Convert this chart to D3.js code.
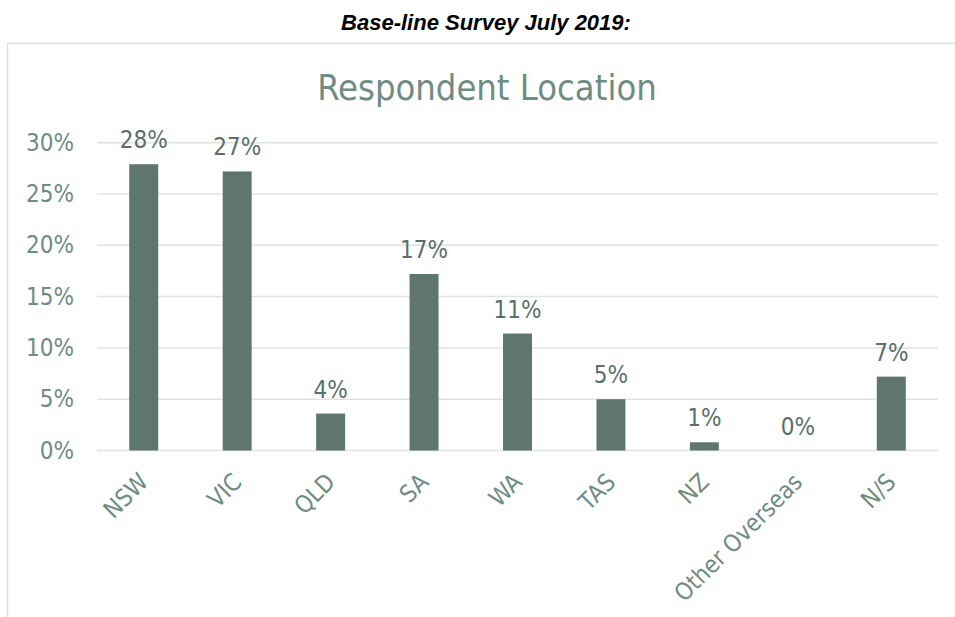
<!DOCTYPE html>
<html>
<head>
<meta charset="utf-8">
<script src="https://cdn.jsdelivr.net/npm/d3@7"></script>
<style>
  html, body { margin: 0; padding: 0; background: #ffffff; }
  svg { display: block; }
</style>
</head>
<body>
<svg id="chart" width="955" height="617"></svg>
<script>
// Respondent location shares, base-line survey
const categories = ["NSW", "VIC", "QLD", "SA", "WA", "TAS", "NZ", "Other Overseas", "N/S"];
const shares = [0.279, 0.272, 0.036, 0.172, 0.114, 0.050, 0.008, 0.0, 0.072];
const yTicks = [0, 0.05, 0.10, 0.15, 0.20, 0.25, 0.30];

const pageTitle = "Base-line Survey July 2019:";
const chartTitle = "Respondent Location";

const svg = d3.select("#chart");

const font = "'DejaVu Sans Condensed', 'Liberation Sans', sans-serif";
const axisColor = "#6f8b84";
const labelColor = "#5b6f6a";
const barColor = "#5e7570";

const plot = { left: 97, right: 938, top: 142.7, bottom: 450.5 };

const x = d3.scaleBand()
  .domain(categories)
  .range([plot.left, plot.right])
  .paddingInner(0.69)
  .paddingOuter(0.345);

const y = d3.scaleLinear()
  .domain([0, 0.30])
  .range([plot.bottom, plot.top]);

// page heading
svg.append("text")
  .attr("x", 486).attr("y", 30)
  .attr("text-anchor", "middle")
  .attr("font-family", "'Liberation Sans', Arial, sans-serif")
  .attr("font-weight", "bold")
  .attr("font-style", "italic")
  .attr("font-size", 22)
  .attr("fill", "#000")
  .text(pageTitle);

// chart frame
svg.append("rect")
  .attr("x", 7.5).attr("y", 43.5)
  .attr("width", 1000).attr("height", 700)
  .attr("fill", "none")
  .attr("stroke", "#d9e0de")
  .attr("stroke-width", 1.5);

// chart title
svg.append("text")
  .attr("x", 487).attr("y", 100)
  .attr("text-anchor", "middle")
  .attr("font-family", font)
  .attr("font-size", 36)
  .attr("fill", axisColor)
  .text(chartTitle);

// gridlines
svg.append("g")
  .selectAll("line")
  .data(yTicks)
  .join("line")
  .attr("x1", plot.left).attr("x2", plot.right)
  .attr("y1", d => y(d)).attr("y2", d => y(d))
  .attr("stroke", "#dfe4e2")
  .attr("stroke-width", 1.5);

// y axis labels
const yAxis = d3.axisLeft(y)
  .tickValues(yTicks)
  .tickFormat(d3.format(".0%"))
  .tickSize(0)
  .tickPadding(0);

svg.append("g")
  .attr("transform", `translate(74,0)`)
  .call(yAxis)
  .call(g => g.select(".domain").remove())
  .call(g => g.selectAll("text")
    .attr("font-family", font)
    .attr("font-size", 24)
    .attr("fill", axisColor));

// bars
svg.append("g")
  .selectAll("rect")
  .data(categories.map((c, i) => ({ c, v: shares[i] })))
  .join("rect")
  .attr("x", d => x(d.c))
  .attr("width", x.bandwidth())
  .attr("y", d => y(d.v))
  .attr("height", d => y(0) - y(d.v))
  .attr("fill", barColor);

// value labels
svg.append("g")
  .selectAll("text")
  .data(categories.map((c, i) => ({ c, v: shares[i] })))
  .join("text")
  .attr("x", d => x(d.c) + x.bandwidth() / 2)
  .attr("y", d => y(d.v) - 16)
  .attr("text-anchor", "middle")
  .attr("font-family", font)
  .attr("font-size", 24)
  .attr("fill", labelColor)
  .text(d => d3.format(".0%")(d.v));

// category labels, rotated
const xAxis = d3.axisBottom(x).tickSize(0).tickPadding(0);
svg.append("g")
  .attr("transform", `translate(0,${plot.bottom})`)
  .call(xAxis)
  .call(g => g.select(".domain").remove())
  .call(g => g.selectAll("text")
    .attr("font-family", font)
    .attr("font-size", 24)
    .attr("fill", axisColor)
    .attr("text-anchor", "end")
    .attr("dy", 0)
    .attr("y", 0)
    .attr("transform", "translate(6,33) rotate(-45)"));
</script>
</body>
</html>
